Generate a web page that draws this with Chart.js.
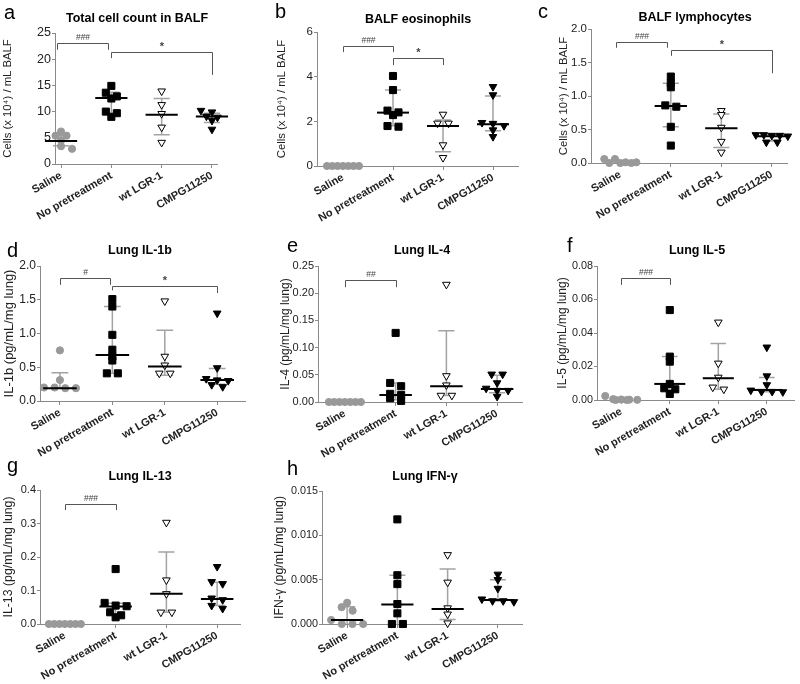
<!DOCTYPE html>
<html>
<head>
<meta charset="utf-8">
<script src="https://cdn.jsdelivr.net/npm/chart.js@4.4.0/dist/chart.umd.min.js"></script>
<style>
  body { margin: 0; background: #fff; }
  #fig { position: relative; width: 800px; height: 684px; overflow: hidden; }
  #fig canvas { position: absolute; }
</style>
</head>
<body>
<div id="fig"></div>
<script>
const groups = ['Saline', 'No pretreatment', 'wt LGR-1', 'CMPG11250'];

// a - total cells in BALF (x 10^4 / mL)
const totalCells = [
  [6.2, 5.4, 5.4, 4.5, 3.4, 3.4, 2.9],
  [14.9, 13.6, 12.9, 12.5, 10.0, 9.7, 9.0],
  [13.9, 11.3, 9.6, 7.0, 4.1],
  [10.2, 9.9, 9.7, 9.1, 8.9, 8.3, 6.6]
];
const totalCellsMed = [4.4, 12.6, 9.4, 9.05];
const totalCellsIqr = [[3.5, 5.4], [9.7, 13.7], [5.6, 12.5], [7.9, 9.7]];

// b - eosinophils
const eosinophils = [
  [0, 0, 0, 0, 0, 0, 0],
  [4.03, 3.4, 2.48, 2.4, 2.28, 1.79, 1.76],
  [2.31, 1.91, 1.91, 0.94, 0.37],
  [3.55, 3.18, 1.94, 1.9, 1.8, 1.61, 1.31]
];
const eosinophilsMed = [null, 2.39, 1.79, 1.87];
const eosinophilsIqr = [null, [1.8, 3.4], [0.64, 2.06], [1.58, 3.13]];

// c - lymphocytes
const lymphocytes = [
  [0.06, 0.06, 0.01, 0.01, 0, 0, 0],
  [1.29, 1.19, 1.13, 0.86, 0.84, 0.54, 0.26],
  [0.78, 0.72, 0.53, 0.32, 0.16],
  [0.42, 0.42, 0.41, 0.41, 0.40, 0.31, 0.31]
];
const lymphocytesMed = [null, 0.85, 0.52, 0.40];
const lymphocytesIqr = [null, [0.54, 1.19], [0.23, 0.73], [0.33, 0.42]];

// d - IL-1b
const il1b = [
  [0.75, 0.31, 0.2, 0.2, 0.19, 0.19],
  [1.51, 1.4, 0.98, 0.76, 0.66, 0.6, 0.41, 0.41],
  [1.48, 0.66, 0.53, 0.41, 0.41],
  [1.3, 0.49, 0.33, 0.31, 0.30, 0.24, 0.21]
];
const il1bMed = [0.19, 0.68, 0.51, 0.31];
const il1bIqr = [[0.19, 0.42], [0.41, 1.4], [0.38, 1.05], [0.25, 0.48]];

// e - IL-4
const il4 = [
  [0, 0, 0, 0, 0, 0, 0],
  [0.127, 0.035, 0.029, 0.015, 0.013, 0.007, 0.002],
  [0.216, 0.048, 0.031, 0.012, 0.012],
  [0.051, 0.051, 0.035, 0.025, 0.021, 0.021, 0.010]
];
const il4Med = [null, 0.013, 0.029, 0.024];
const il4Iqr = [null, [0.004, 0.035], [0.012, 0.131], [0.017, 0.049]];

// f - IL-5
const il5 = [
  [0.0024, 0.0005, 0.0003, 0.0002, 0.0001, 0, 0],
  [0.0537, 0.0259, 0.0229, 0.0096, 0.007, 0.0064, 0.0036],
  [0.0464, 0.0219, 0.0135, 0.0076, 0.0064],
  [0.0315, 0.0143, 0.009, 0.0058, 0.005, 0.005, 0.0048]
];
const il5Med = [null, 0.0096, 0.013, 0.006];
const il5Iqr = [null, [0.006, 0.026], [0.0064, 0.0338], [0.005, 0.0135]];

// g - IL-13
const il13 = [
  [0, 0, 0, 0, 0, 0, 0],
  [0.164, 0.063, 0.055, 0.053, 0.035, 0.026, 0.02],
  [0.303, 0.131, 0.09, 0.035, 0.035],
  [0.171, 0.126, 0.12, 0.077, 0.072, 0.055, 0.046]
];
const il13Med = [null, 0.052, 0.09, 0.075];
const il13Iqr = [null, [0.03, 0.062], [0.035, 0.215], [0.055, 0.125]];

// h - IFN-gamma
const ifng = [
  [0.0024, 0.0019, 0.0015, 0.00045, 0, 0, 0],
  [0.0118, 0.0055, 0.0045, 0.00225, 0.0012, 0, 0],
  [0.0078, 0.0047, 0.0018, 0.0011, 0.0001],
  [0.0056, 0.005, 0.004, 0.0028, 0.0026, 0.0026, 0.0025]
];
const ifngMed = [0.00045, 0.0022, 0.0017, 0.0027];
const ifngIqr = [[0, 0.00195], [0, 0.0055], [0.0005, 0.0062], [0.0026, 0.005]];

const FONT = '"Liberation Sans", Arial, Helvetica, sans-serif';
const AXIS = '#8a8a8a';
const BAND = 4;

const markers = [
  { style: 'circle', radius: 3.6, bg: '#999', border: '#999', rotation: 0 },
  { style: 'rect', radius: 5, bg: '#000', border: '#000', rotation: 0 },
  { style: 'triangle', radius: 4.4, bg: '#fff', border: '#000', rotation: 180 },
  { style: 'triangle', radius: 4.4, bg: '#000', border: '#000', rotation: 180 }
];

// layout: box = canvas [x, y, w, h], area = plot [left, top, right, bottom] in page pixels
const panels = [
  { letter: 'a', title: 'Total cell count in BALF', yTitle: 'Cells (x 10⁴) / mL BALF',
    values: totalCells, med: totalCellsMed, iqr: totalCellsIqr, yMax: 25, step: 5, dec: 0,
    brackets: [{ from: -0.08, to: 0.94, y: 23.1, legs: [21.8, 21.8], text: '###' },
               { from: 1, to: 3, y: 21.4, legs: [20.2, 17.0], text: '*' }],
    box: [0, 0, 265, 250], area: [55, 33, 217, 164], xr: [-0.12, 3.1],
    yTitleX: 8, yfs: 11.3, tfs: 12.5, titleAt: [137, 19], letterAt: [4, 19] },
  { letter: 'b', title: 'BALF eosinophils', yTitle: 'Cells (x 10⁴) / mL BALF',
    values: eosinophils, med: eosinophilsMed, iqr: eosinophilsIqr, yMax: 6, step: 2, dec: 0,
    brackets: [{ from: 0, to: 1, y: 5.37, legs: [5.1, 5.1], text: '###' },
               { from: 1, to: 2, y: 4.84, legs: [4.52, 4.52], text: '*' }],
    box: [265, 0, 265, 250], area: [317, 32, 518, 166], xr: [-0.52, 3.5],
    yTitleX: 282, yfs: 11.3, tfs: 11.5, titleAt: [418, 20], letterAt: [275, 18] },
  { letter: 'c', title: 'BALF lymphocytes', yTitle: 'Cells (x 10⁴) / mL BALF',
    values: lymphocytes, med: lymphocytesMed, iqr: lymphocytesIqr, yMax: 2, step: 0.5, dec: 1,
    brackets: [{ from: -0.08, to: 0.92, y: 1.81, legs: [1.72, 1.72], text: '###' },
               { from: 1, to: 3, y: 1.69, legs: [1.6, 1.34], text: '*' }],
    box: [530, 0, 270, 250], area: [591, 29, 787, 163], xr: [-0.58, 3.3],
    yTitleX: 564, yfs: 11.3, tfs: 11.5, titleAt: [695, 18], letterAt: [538, 18] },
  { letter: 'd', title: 'Lung IL-1b', yTitle: 'IL-1b (pg/mL/mg lung)',
    values: il1b, med: il1bMed, iqr: il1bIqr, yMax: 2, step: 0.5, dec: 1,
    brackets: [{ from: 0, to: 0.95, y: 1.82, legs: [1.72, 1.72], text: '#' },
               { from: 1, to: 3, y: 1.70, legs: [1.64, 1.6], text: '*' }],
    box: [0, 225, 265, 250], area: [40, 266, 245, 401], xr: [-0.38, 3.53],
    yTitleX: 9, yfs: 13, tfs: 12, titleAt: [140, 251], letterAt: [7, 257] },
  { letter: 'e', title: 'Lung IL-4', yTitle: 'IL-4 (pg/mL/mg lung)',
    values: il4, med: il4Med, iqr: il4Iqr, yMax: 0.25, step: 0.05, dec: 2,
    brackets: [{ from: 0, to: 1, y: 0.224, legs: [0.211, 0.211], text: '##' }],
    box: [265, 225, 265, 250], area: [318, 266, 522, 402], xr: [-0.53, 3.49],
    yTitleX: 286, yfs: 12, tfs: 11, titleAt: [422, 251], letterAt: [287, 252] },
  { letter: 'f', title: 'Lung IL-5', yTitle: 'IL-5 (pg/mL/mg lung)',
    values: il5, med: il5Med, iqr: il5Iqr, yMax: 0.08, step: 0.02, dec: 2,
    brackets: [{ from: 0, to: 1, y: 0.0728, legs: [0.0687, 0.0687], text: '###' }],
    box: [530, 225, 270, 250], area: [597, 266, 800, 400], xr: [-0.5, 3.56],
    yTitleX: 563, yfs: 12, tfs: 10.8, titleAt: [697, 251], letterAt: [567, 252] },
  { letter: 'g', title: 'Lung IL-13', yTitle: 'IL-13 (pg/mL/mg lung)',
    values: il13, med: il13Med, iqr: il13Iqr, yMax: 0.4, step: 0.1, dec: 1,
    brackets: [{ from: 0, to: 1, y: 0.358, legs: [0.34, 0.34], text: '###' }],
    box: [0, 450, 265, 234], area: [40, 490, 240, 624], xr: [-0.49, 3.45],
    yTitleX: 9, yfs: 12.3, tfs: 11, titleAt: [140, 477], letterAt: [7, 472] },
  { letter: 'h', title: 'Lung IFN-γ', yTitle: 'IFN-γ (pg/mL/mg lung)',
    values: ifng, med: ifngMed, iqr: ifngIqr, yMax: 0.015, step: 0.005, dec: 3,
    brackets: [],
    box: [265, 450, 265, 234], area: [322, 491, 522, 624], xr: [-0.5, 3.48],
    yTitleX: 280, yfs: 12.3, tfs: 10.8, titleAt: [425, 477], letterAt: [287, 475] }
];

const decor = {
  id: 'decor',
  beforeDatasetsDraw(chart, args, o) {
    const { ctx, scales: { x, y } } = chart;
    ctx.save();
    ctx.strokeStyle = '#a3a3a3';
    ctx.lineWidth = 1.5;
    o.iqr.forEach((r, i) => {
      if (!r) return;
      const cx = x.getPixelForValue(i);
      const hw = x.getPixelForValue(i + 0.16) - cx;
      const y0 = y.getPixelForValue(r[0]), y1 = y.getPixelForValue(r[1]);
      ctx.beginPath();
      ctx.moveTo(cx, y0); ctx.lineTo(cx, y1);
      ctx.moveTo(cx - hw, y1); ctx.lineTo(cx + hw, y1);
      if (r[0] > 0) { ctx.moveTo(cx - hw, y0); ctx.lineTo(cx + hw, y0); }
      ctx.stroke();
    });
    ctx.restore();
  },
  afterDatasetsDraw(chart, args, o) {
    const { ctx, scales: { x, y } } = chart;
    ctx.save();
    // medians
    ctx.strokeStyle = '#000';
    ctx.lineWidth = 2;
    o.med.forEach((m, i) => {
      if (m === null) return;
      const py = y.getPixelForValue(m);
      ctx.beginPath();
      ctx.moveTo(x.getPixelForValue(i - 0.32), py);
      ctx.lineTo(x.getPixelForValue(i + 0.32), py);
      ctx.stroke();
    });
    // significance brackets
    ctx.strokeStyle = '#555';
    ctx.fillStyle = '#444';
    ctx.lineWidth = 1;
    ctx.textAlign = 'center';
    ctx.textBaseline = 'bottom';
    o.brackets.forEach(b => {
      const x1 = Math.round(x.getPixelForValue(b.from)) + 0.5;
      const x2 = Math.round(x.getPixelForValue(b.to)) + 0.5;
      const yt = Math.round(y.getPixelForValue(b.y)) + 0.5;
      ctx.beginPath();
      ctx.moveTo(x1, y.getPixelForValue(b.legs[0]));
      ctx.lineTo(x1, yt);
      ctx.lineTo(x2, yt);
      ctx.lineTo(x2, y.getPixelForValue(b.legs[1]));
      ctx.stroke();
      ctx.font = b.text === '*' ? 'bold 11px ' + FONT : '8.5px ' + FONT;
      ctx.fillText(b.text, (x1 + x2) / 2, yt - (b.text === '*' ? 0 : 2));
    });
    ctx.restore();
  },
  afterDraw(chart, args, o) {
    const ctx = chart.ctx;
    ctx.save();
    ctx.fillStyle = '#000';
    ctx.textBaseline = 'middle';
    ctx.textAlign = 'center';
    ctx.font = 'bold 12.5px ' + FONT;
    ctx.fillText(o.title, o.titleAt[0], o.titleAt[1]);
    ctx.textBaseline = 'alphabetic';
    ctx.textAlign = 'left';
    ctx.font = '20px ' + FONT;
    ctx.fillText(o.letter, o.letterAt[0], o.letterAt[1]);
    ctx.restore();
  }
};

Chart.register(decor);
Chart.defaults.font.family = FONT;

// Prism-like spread: points within a few pixels of each other share a row, centred on the group
function spread(chart, values) {
  const { x, y } = chart.scales;
  const unit = x.getPixelForValue(1) - x.getPixelForValue(0);
  chart.data.datasets.forEach((ds, g) => {
    const pts = values[g].map(v => ({ v, py: y.getPixelForValue(v), off: 0 }));
    const rows = [];
    pts.slice().sort((a, b) => a.py - b.py).forEach(pt => {
      const row = rows[rows.length - 1];
      if (row && pt.py - row[0].py < BAND) row.push(pt);
      else rows.push([pt]);
    });
    rows.forEach(row => {
      const s = row.length > 1 ? Math.min(11, 32 / (row.length - 1)) : 0;
      row.forEach((pt, j) => { pt.off = (j - (row.length - 1) / 2) * s; });
    });
    ds.data = pts.map(pt => ({ x: g + pt.off / unit, y: pt.v }));
  });
  chart.update('none');
}

const fig = document.getElementById('fig');

panels.forEach(p => {
  const [bx, by, bw, bh] = p.box;
  const [al, at, ar, ab] = p.area;
  const canvas = document.createElement('canvas');
  canvas.width = bw;
  canvas.height = bh;
  canvas.style.left = bx + 'px';
  canvas.style.top = by + 'px';
  fig.appendChild(canvas);

  const titleOffset = p.yfs * 1.2 / 2;
  const padLeft = Math.max(p.yTitleX - bx - titleOffset, 0);

  const chart = new Chart(canvas.getContext('2d'), {
    type: 'scatter',
    data: {
      datasets: p.values.map((vals, g) => ({
        label: groups[g],
        data: vals.map(v => ({ x: g, y: v })),
        pointStyle: markers[g].style,
        pointRadius: markers[g].radius,
        pointHoverRadius: markers[g].radius,
        pointRotation: markers[g].rotation,
        pointBackgroundColor: markers[g].bg,
        pointBorderColor: markers[g].border,
        pointBorderWidth: 1,
        showLine: false,
        clip: false
      }))
    },
    options: {
      responsive: false,
      animation: false,
      events: [],
      layout: { padding: { left: padLeft, top: at - by, right: bx + bw - ar, bottom: 0 } },
      plugins: {
        legend: { display: false },
        tooltip: { enabled: false },
        decor: {
          med: p.med, iqr: p.iqr, brackets: p.brackets,
          title: p.title, titleAt: [p.titleAt[0] - bx, p.titleAt[1] - by],
          letter: p.letter, letterAt: [p.letterAt[0] - bx, p.letterAt[1] - by]
        }
      },
      scales: {
        x: {
          type: 'linear',
          min: p.xr[0],
          max: p.xr[1],
          afterBuildTicks: s => { s.ticks = groups.map((_, i) => ({ value: i })); },
          afterFit: s => { s.height = by + bh - ab; },
          ticks: {
            autoSkip: false,
            minRotation: 30,
            maxRotation: 30,
            padding: 1,
            color: '#222',
            font: { size: 11, weight: 'bold' },
            callback: v => groups[v]
          },
          grid: { drawOnChartArea: false, tickLength: 4, color: AXIS },
          border: { color: AXIS }
        },
        y: {
          min: 0,
          max: p.yMax,
          afterFit: s => { s.width = al - bx - padLeft; },
          ticks: {
            stepSize: p.step,
            padding: 1,
            color: '#222',
            font: { size: p.tfs },
            callback: v => Number(v).toFixed(p.dec)
          },
          grid: { drawOnChartArea: false, tickLength: 3, color: AXIS },
          border: { color: AXIS },
          title: { display: true, text: p.yTitle, color: '#222', font: { size: p.yfs }, padding: 0 }
        }
      }
    }
  });
  spread(chart, p.values);
});
</script>
</body>
</html>
